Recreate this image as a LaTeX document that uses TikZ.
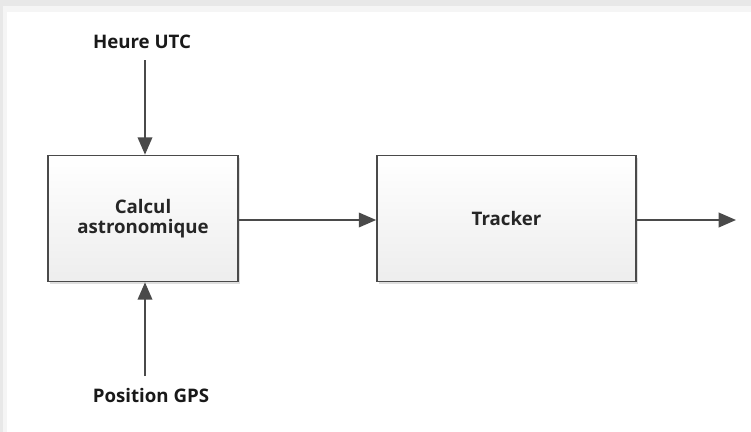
\documentclass[tikz,border=0pt]{standalone}
\usepackage{fontspec}
\setmainfont{Open Sans}
\usetikzlibrary{arrows.meta,shadows}
\definecolor{edge}{HTML}{4A4A4A}
\begin{document}
\begin{tikzpicture}[x=0.75pt,y=-0.75pt,
  blk/.style={draw=edge,line width=1.3pt,top color=white,bottom color=black!7,
    drop shadow={shadow xshift=1.5pt,shadow yshift=-1.5pt,fill=black!25,opacity=0.5},
    font=\fontsize{14}{17}\selectfont\bfseries,text=black!85,align=center},
  lbl/.style={font=\fontsize{14}{17}\selectfont\bfseries,text=black!90},
  conn/.style={draw=edge,line width=1.2pt,-{Triangle[length=13pt,width=11pt]}}]
\useasboundingbox (0,0) rectangle (751,432);
\fill[black!9] (0,0) rectangle (751,432);
\fill[black!4] (3,6) rectangle (751,432);
\fill[white] (7,12) rectangle (751,432);
\node[blk,minimum width=190*0.75pt,minimum height=126*0.75pt] (calc) at (143,218.5) {Calcul\\[-2pt]astronomique};
\node[blk,minimum width=259*0.75pt,minimum height=126*0.75pt] (trk) at (506.5,218.5) {Tracker};
\node[lbl] (utc) at (142,42) {Heure UTC};
\node[lbl] (gps) at (151,395) {Position GPS};
\coordinate (out) at (736,220);
\coordinate (utcend) at (145,60);
\coordinate (gpsend) at (145,376);
\draw[conn] (utcend) -- (utcend |- calc.north);
\draw[conn] (gpsend) -- (gpsend |- calc.south);
\draw[conn] (calc.east |- 0,220) -- (trk.west |- 0,220);
\draw[conn] (trk.east |- 0,220) -- (out);
\end{tikzpicture}
\end{document}
